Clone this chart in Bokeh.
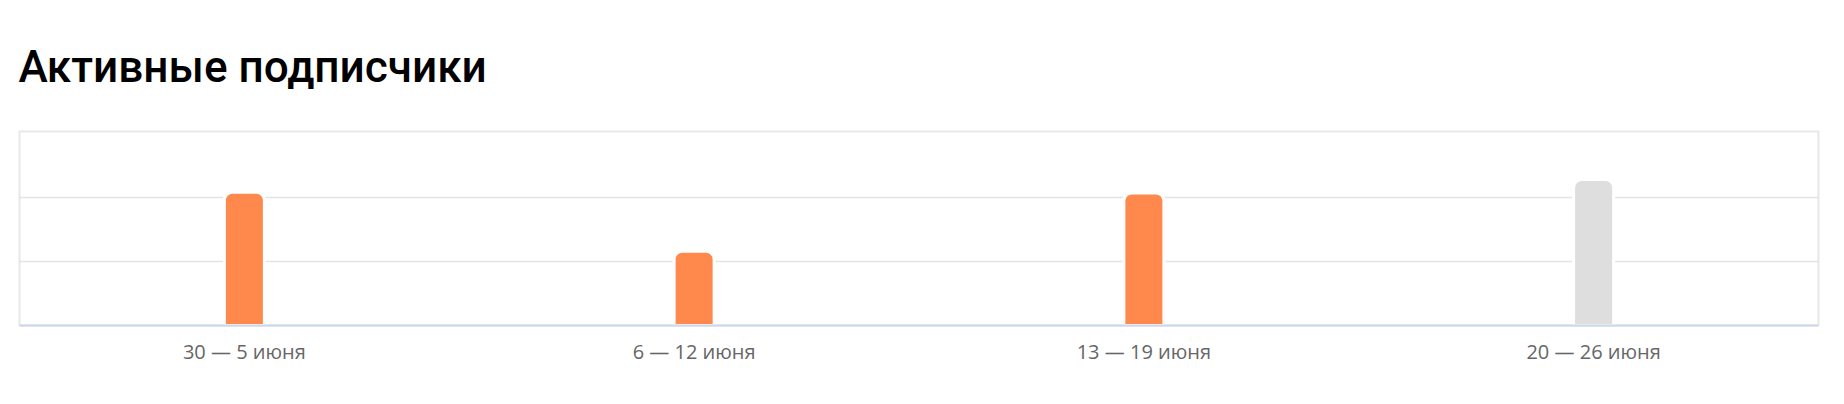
from bokeh.plotting import figure
from bokeh.models import ColumnDataSource, FactorRange, Range1d, FixedTicker, Grid, Title
from bokeh.embed import file_html
from bokeh.resources import INLINE

# data
weeks = ["30 — 5 июня", "6 — 12 июня", "13 — 19 июня", "20 — 26 июня"]
active = [2.08, 1.16, 2.07, 2.28]
colors = ["#FF884D", "#FF884D", "#FF884D", "#DEDEDE"]
grid_ticks = [1, 2]

src = ColumnDataSource(dict(week=weeks, active=active, color=colors))

p = figure(width=1828, height=388, x_range=FactorRange(*weeks, range_padding=0),
           y_range=Range1d(0, 3.03), output_backend="svg", toolbar_location=None,
           y_axis_location=None, min_border_left=19, min_border_right=10,
           min_border_top=131, min_border_bottom=63)
p.title = Title(text="Активные подписчики", text_font="Roboto Medium", text_font_size="44px",
                text_font_style="normal", text_color="#000000", align="left",
                standoff=77, offset=-1)

p.center = [r for r in p.center if not isinstance(r, Grid)]
p.add_layout(Grid(dimension=1, ticker=FixedTicker(ticks=grid_ticks),
                  grid_line_color="#E4E4E4", grid_line_width=1.5))

p.vbar(x="week", top="active", width=0.089, source=src, fill_color="color",
       line_color="white", line_width=3, border_radius=(8, 8, 0, 0))

p.outline_line_color = "#E8E8E8"
p.outline_line_width = 2
p.background_fill_color = "white"
p.border_fill_color = "white"

ax = p.xaxis[0]
ax.axis_line_color = "#CCD6EA"
ax.axis_line_width = 2
ax.major_tick_line_color = None
ax.minor_tick_line_color = None
ax.major_tick_out = 0
ax.major_label_standoff = 12
ax.major_label_text_font = "Open Sans"
ax.major_label_text_font_size = "20px"
ax.major_label_text_color = "#666666"

open("out.html", "w").write(file_html(p, INLINE))
